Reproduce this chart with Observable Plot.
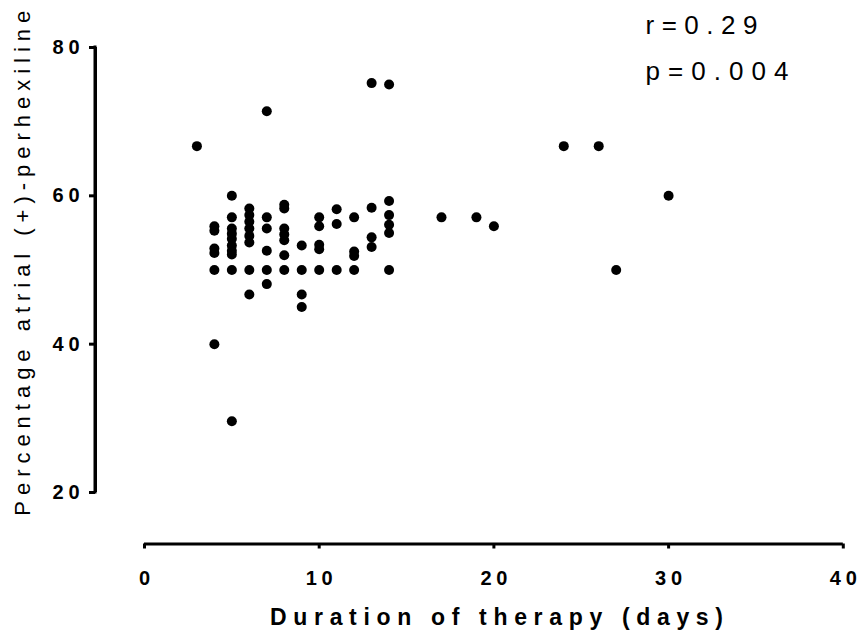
<!DOCTYPE html>
<html>
<head>
<meta charset="utf-8">
<script src="https://cdn.jsdelivr.net/npm/d3@7"></script>
<script src="https://cdn.jsdelivr.net/npm/@observablehq/plot@0.6"></script>
<style>
  html, body { margin: 0; padding: 0; background: #fff; }
  svg { font-family: "Liberation Sans", Arial, sans-serif; }
</style>
</head>
<body>
<div id="chart"></div>
<script>
// Duration of therapy (days) for each patient
const days = [
  3,
  4, 4, 4, 4, 4, 4,
  5, 5, 5, 5, 5, 5, 5, 5, 5, 5,
  6, 6, 6, 6, 6, 6, 6, 6,
  7, 7, 7, 7, 7, 7,
  8, 8, 8, 8, 8, 8, 8,
  9, 9, 9, 9,
  10, 10, 10, 10, 10,
  11, 11, 11,
  12, 12, 12, 12,
  13, 13, 13, 13,
  14, 14, 14, 14, 14, 14,
  17, 19, 20, 24, 26, 27, 30
];
// Percentage atrial (+)-perhexiline for each patient
const pct = [
  66.7,
  55.9, 55.3, 52.9, 52.3, 50, 40,
  60, 57.1, 55.6, 54.9, 54.2, 53.3, 52.6, 52.1, 50, 29.6,
  58.3, 57.4, 56.5, 55.6, 54.6, 53.7, 50, 46.7,
  71.4, 57.1, 55.6, 52.6, 50, 48.1,
  58.8, 58.3, 55.6, 54.8, 54.0, 52.0, 50,
  53.3, 50, 46.7, 45,
  57.1, 55.9, 53.4, 52.8, 50,
  58.2, 56.2, 50,
  57.1, 52.5, 51.9, 50,
  75.2, 58.4, 54.4, 53.1,
  75, 59.3, 57.4, 56.1, 55.0, 50,
  57.1, 57.1, 55.9, 66.7, 66.7, 50, 60
];
const xTicks = [0, 10, 20, 30, 40];
const yTicks = [20, 40, 60, 80];
const xLabel = "Duration of therapy (days)";
const yLabel = "Percentage atrial (+)-perhexiline";
const statLines = ["r=0.29", "p=0.004"];

const points = days.map((d, i) => ({days: d, pct: pct[i]}));
const xAxisLine = [{x1: xTicks[0], x2: xTicks[xTicks.length - 1], y: yTicks[0]}];
const yAxisLine = [{x: xTicks[0], y1: yTicks[0], y2: yTicks[yTicks.length - 1]}];

const chart = Plot.plot({
  width: 858,
  height: 635,
  marginLeft: 95,
  marginRight: 15,
  marginTop: 0,
  marginBottom: 91.5,
  x: {domain: [0, 40], range: [144, 842.8]},
  y: {domain: [20, 80], range: [492, 47]},
  style: {fontFamily: "'Liberation Sans', Arial, sans-serif", color: "#000", background: "#fff"},
  marks: [
    Plot.axisX(xTicks, {
      anchor: "bottom", tickSize: 5, tickPadding: 22, strokeWidth: 3,
      fontSize: 20, fontWeight: "bold", label: null, tickFormat: d => String(d)
    }),
    Plot.axisY(yTicks, {
      anchor: "left", tickSize: 6, tickPadding: 10, strokeWidth: 3,
      fontSize: 20, fontWeight: "bold", label: null, tickFormat: d => String(d)
    }),
    Plot.dot(points, {x: "days", y: "pct", r: 5, fill: "#000", stroke: null}),
    Plot.text([xLabel], {
      frameAnchor: "bottom", textAnchor: "middle", dx: 27, dy: 74,
      fontSize: 23, fontWeight: "bold", fill: "#000", lineAnchor: "middle"
    }),
    Plot.text([yLabel], {
      frameAnchor: "left", textAnchor: "middle", rotate: -90, dx: -73, dy: -9,
      fontSize: 22, fill: "#000", lineAnchor: "middle"
    }),
    Plot.text([statLines.join("\n")], {
      frameAnchor: "top-left", dx: 550, dy: 0, fontSize: 26, textAnchor: "start",
      lineAnchor: "top", lineHeight: 1.79, fill: "#000"
    }),
    // detached axis lines
    Plot.ruleY(xAxisLine, {x1: "x1", x2: "x2", y: "y", dy: 51.5, strokeWidth: 3, stroke: "#000"}),
    Plot.rect(yAxisLine, {
      x1: "x", x2: "x", y1: "y1", y2: "y2", insetLeft: -1.5, insetRight: -1.5,
      insetTop: -1.5, insetBottom: -1.5, dx: -49, fill: "#000"
    }),
    Plot.ruleX(yAxisLine, {x: "x", y1: "y1", y2: "y2", dx: -49, strokeWidth: 3, stroke: "#000"})
  ]
});
document.getElementById("chart").appendChild(chart);

// widen the spacing of texts with textLength (as in the reference's spaced lettering)
const svg = d3.select(chart);
svg.selectAll('g[aria-label="x-axis tick label"] text, g[aria-label="y-axis tick label"] text')
  .each(function() {
    const t = d3.select(this);
    if (t.text().length === 2) t.attr("textLength", 27).attr("lengthAdjust", "spacing");
  });
svg.selectAll('g[aria-label="text"] text').each(function() {
  const t = d3.select(this);
  const s = t.text();
  if (s.startsWith("Duration")) t.attr("textLength", 453).attr("lengthAdjust", "spacing");
  else if (s.startsWith("Percentage")) t.attr("textLength", 505).attr("lengthAdjust", "spacing");
  else {
    t.selectAll("tspan").each(function() {
      const sp = d3.select(this);
      const w = sp.text().startsWith("r") ? 112 : 143;
      sp.attr("textLength", w).attr("lengthAdjust", "spacing");
    });
  }
});
</script>
</body>
</html>
